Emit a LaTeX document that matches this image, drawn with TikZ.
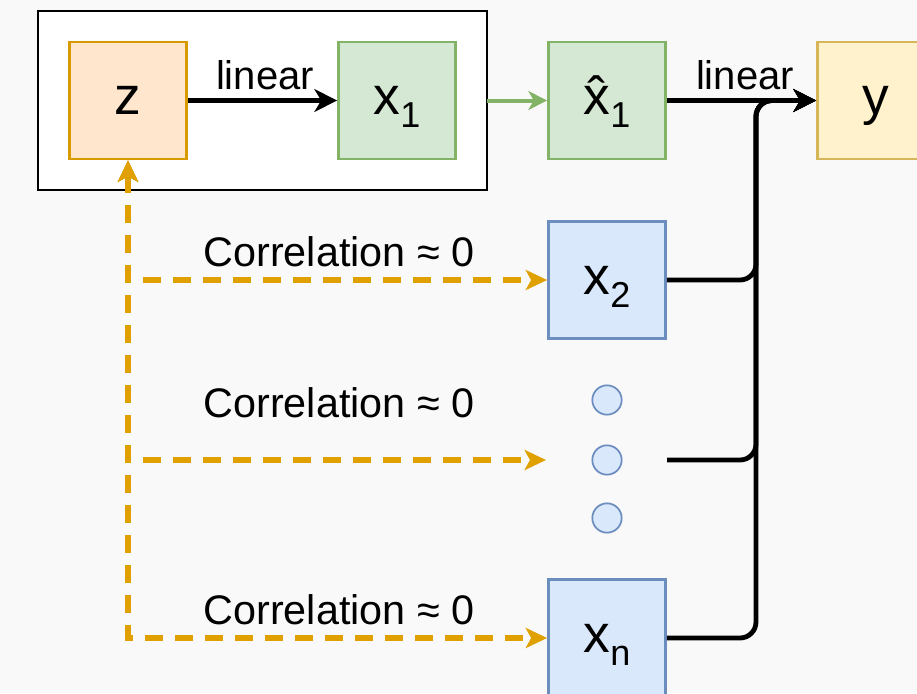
\documentclass[tikz,border=0pt]{standalone}
\usepackage{fontspec}
\setmainfont{Liberation Sans}
\usetikzlibrary{arrows.meta}

\definecolor{zfill}{HTML}{FFE6CC}
\definecolor{zdraw}{HTML}{D79B00}
\definecolor{gfill}{HTML}{D5E8D4}
\definecolor{gdraw}{HTML}{82B366}
\definecolor{bfill}{HTML}{DAE8FC}
\definecolor{bdraw}{HTML}{6C8EBF}
\definecolor{yfill}{HTML}{FFF2CC}
\definecolor{ydraw}{HTML}{D6B656}
\definecolor{corr}{HTML}{DFA000}
\definecolor{bg}{HTML}{F9F9F9}

% variable with a lowered index, sized like the box labels
\newcommand\varlab[2]{\fontsize{40}{48}\selectfont #1\smash{\raisebox{-10pt}{\fontsize{27}{32}\selectfont #2}}}

\tikzset{
  box/.style={draw, line width=1.8pt, minimum width=88pt, minimum height=88pt,
    inner sep=0pt, text height=21pt, text depth=0pt, font=\fontsize{40}{48}\selectfont},
  orangebox/.style={box, fill=zfill, draw=zdraw},
  greenbox/.style={box, fill=gfill, draw=gdraw},
  bluebox/.style={box, fill=bfill, draw=bdraw},
  yellowbox/.style={box, fill=yfill, draw=ydraw},
  dot/.style={circle, draw=bdraw, fill=bfill, line width=1.3pt, minimum size=22pt, inner sep=0pt},
  tip/.style={-{Stealth[length=17pt,width=17pt,inset=5pt]}},
  flow/.style={line width=3.6pt, black, tip},
  merge/.style={line width=3.6pt, black, rounded corners=12pt, tip},
  corrline/.style={line width=4pt, corr, dash pattern=on 13.5pt off 9pt,
    {Stealth[length=16pt,width=15pt,inset=4pt]}-{Stealth[length=16pt,width=15pt,inset=4pt]}},
  txt/.style={font=\fontsize{31}{36}\selectfont, text=black, inner sep=0pt},
}

\begin{document}
\begin{tikzpicture}[x=0.75pt, y=-0.75pt]
  % canvas
  \fill[bg] (0,0) rectangle (917,693);
  \useasboundingbox (0,0) rectangle (917,693);
  \begin{scope}
  \clip (0,0) rectangle (917,693);

  % frame around z and x1
  \draw[line width=2pt, fill=white] (38,11) rectangle (487,190);

  % variables
  \node[orangebox] (z)  at (128,100.5) {z};
  \node[greenbox]  (x1) at (397,100.5) {\varlab{x}{1}};
  \node[greenbox]  (xh) at (607,100.5) {\varlab{\^{x}}{1}};
  \node[yellowbox] (y)  at (876,100.5) {y};
  \node[bluebox]   (x2) at (607,280) {\varlab{x}{2}};
  \node[bluebox]   (xn) at (607,638) {\varlab{x}{n}};
  \node[dot] (d1) at (607,400) {};
  \node[dot] (d2) at (607,460) {};
  \node[dot] (d3) at (607,518) {};
  \coordinate (dotsin)  at (546,460);
  \coordinate (dotsout) at (667,460);
  \coordinate (bus) at (756,0);

  % linear maps
  \draw[flow] (z) -- (x1);
  \node[txt, font=\fontsize{30}{36}\selectfont] (l1) at (265,75) {linear};
  \draw[line width=3pt, gdraw, -{Stealth[length=14pt,width=14pt,inset=4pt]}] (487,100.5) -- (xh);
  \draw[flow] (xh) -- (y);
  \node[txt, font=\fontsize{30}{36}\selectfont] (l2) at (745,75) {linear};

  % remaining inputs merging into y
  \draw[merge] (xn.east) -| (bus |- y.west) -- (y.west);
  \draw[merge] (dotsout) -| (bus |- y.west) -- (y.west);
  \draw[merge] (x2.east) -| (bus |- y.west) -- (y.west);

  % correlations with z
  \draw[corrline] (z.south) |- (x2.west);
  \draw[corrline] (z.south) |- (dotsin);
  \draw[corrline] (z.south) |- (xn.west);
  \node[txt] (c1) at (339,252) {Correlation ≈ 0};
  \node[txt] (c2) at (339,403) {Correlation ≈ 0};
  \node[txt] (c3) at (339,610) {Correlation ≈ 0};
  \end{scope}
\end{tikzpicture}
\end{document}
